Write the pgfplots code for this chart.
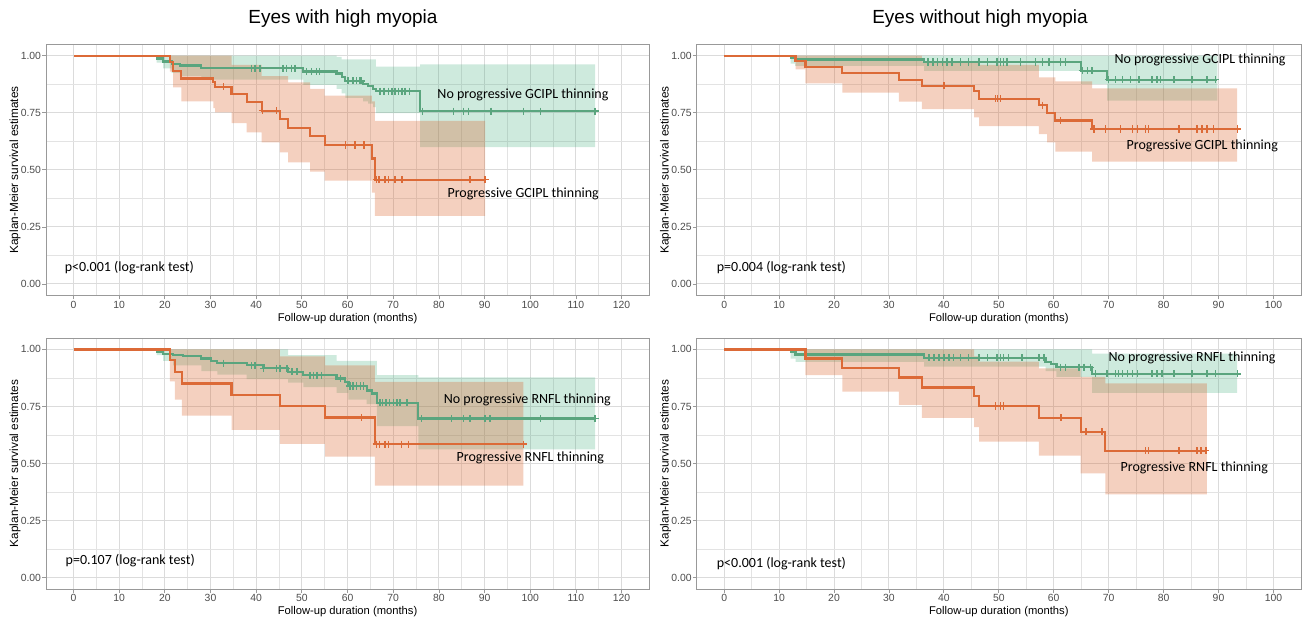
\documentclass[border=0pt]{standalone}
\usepackage{fontspec}
\setmainfont{Liberation Sans}
\newfontfamily\carlito{Carlito}
\usepackage{pgfplots}
\pgfplotsset{compat=1.18}
\definecolor{gline}{HTML}{5AA57E}
\definecolor{oline}{HTML}{DC6A37}
\definecolor{gfill}{HTML}{3DAA78}
\definecolor{ofill}{HTML}{D9622B}
\pgfplotsset{
 km/.style={
  scale only axis, height=125.55pt, clip=false,
  ymin=-0.05, ymax=1.05,
  ytick={0,0.25,0.5,0.75,1}, yticklabels={0.00,0.25,0.50,0.75,1.00},
  minor ytick={0.125,0.375,0.625,0.875},
  minor x tick num=1,
  grid=both,
  major grid style={draw=black!14, line width=0.5pt},
  minor grid style={draw=black!11, line width=0.35pt},
  axis line style={draw=black!40, line width=0.4pt},
  tick pos=left, tick align=outside,
  major tick length=2pt, minor tick length=0pt,
  tick style={draw=black!40, line width=0.4pt},
  ticklabel style={font=\fontsize{5.2}{6}\selectfont, text=black!70},
  xticklabel style={yshift=2.8pt},
  yticklabel style={xshift=3pt},
  /pgf/number format/assume math mode=true,
  xlabel={Follow-up duration (months)},
  ylabel={Kaplan-Meier survival estimates},
  every axis x label/.style={at={(axis description cs:0.5,-0.0916)}, anchor=center, font=\fontsize{5.6}{6.5}\selectfont},
  every axis y label/.style={at={(axis description cs:-0.0514,0.5)}, anchor=center, rotate=90, font=\fontsize{5.9}{6.8}\selectfont},
 },
 kml/.style={km, width=301.45pt, xmin=-6, xmax=126, xtick={0,10,...,120}},
 kmr/.style={km, width=302.1pt, xmin=-5, xmax=105, xtick={0,10,...,100}},
 gband/.style={const plot, fill=gfill, fill opacity=0.25, draw=none},
 oband/.style={const plot, fill=ofill, fill opacity=0.3, draw=none},
 gl/.style={gline, const plot, line width=1.1pt},
 ol/.style={oline, const plot, line width=1.1pt},
 gc/.style={gline, only marks, mark=+, mark size=1.8pt, mark options={line width=0.7pt}},
 oc/.style={oline, only marks, mark=+, mark size=1.8pt, mark options={line width=0.7pt}},
}
\tikzset{ann/.style={anchor=west, inner sep=0pt, font=\carlito\fontsize{7}{8.4}\selectfont}}
\begin{document}
\begin{tikzpicture}
\path[use as bounding box] (0,0) rectangle (652pt,310pt);
\node[font=\fontsize{9.5}{11}\selectfont] at (171.5pt,300.5pt) {Eyes with high myopia};
\node[font=\fontsize{9.5}{11}\selectfont] at (490pt,300.5pt) {Eyes without high myopia};

% ---------------- Top left ----------------
\begin{axis}[kml, at={(23.05pt,162.3pt)}, anchor=south west]
\addplot[gband] coordinates {(18.2,1) (57.6,0.995) (58.7,0.984) (66.2,0.952) (75.9,0.962) (114.2,0.962)
 (114.2,0.599) (75.9,0.749) (66.2,0.775) (65.6,0.79) (64.5,0.80) (63.4,0.815) (59.5,0.835) (58.7,0.855) (57.6,0.872) (50.3,0.895) (28,0.91) (23.3,0.925) (21.5,0.945) (19.6,0.97) (18.2,0.97)};
\addplot[oband] coordinates {(21.1,1) (34.6,0.96) (41.2,0.91) (47.0,0.883) (51.8,0.855) (55.0,0.825) (65.3,0.80) (66.0,0.715) (90.1,0.715)
 (90.1,0.298) (66.0,0.40) (65.3,0.453) (55.0,0.492) (51.8,0.533) (47.0,0.577) (45.2,0.62) (41.2,0.664) (37.9,0.705) (34.6,0.752) (31.0,0.77) (30.6,0.80) (23.6,0.861) (21.8,0.93) (21.1,0.93)};
\addplot[gl] coordinates {(0,1) (18.2,0.988) (19.6,0.975) (21.5,0.964) (23.3,0.957) (28.0,0.945) (50.3,0.931) (57.6,0.922) (58.7,0.905) (59.5,0.89) (63.4,0.876) (64.5,0.866) (65.6,0.855) (66.2,0.844) (75.9,0.757) (114.2,0.757)};
\addplot[ol] coordinates {(0,1) (21.1,0.971) (21.8,0.934) (23.6,0.90) (30.6,0.886) (31.0,0.864) (34.6,0.832) (37.9,0.796) (41.2,0.759) (45.2,0.723) (47.0,0.683) (51.8,0.647) (55.0,0.609) (65.3,0.55) (66.0,0.457) (90.1,0.457)};
\addplot[gc] coordinates {(39.0,0.945) (39.7,0.945) (40.8,0.945) (45.9,0.945) (46.6,0.945) (47.7,0.945) (48.5,0.945) (51.0,0.931) (52.1,0.931) (53.2,0.931) (53.9,0.931) (60.1,0.89) (61.2,0.89) (62.0,0.89) (62.7,0.89) (63.1,0.89) (67.1,0.844) (68.0,0.844) (68.9,0.844) (69.7,0.844) (70.4,0.844) (71.1,0.844) (71.9,0.844) (72.6,0.844) (73.5,0.844) (76.4,0.757) (83.2,0.757) (85.4,0.757) (86.5,0.757) (91.4,0.757) (98.5,0.757) (102.2,0.757) (114.2,0.757)};
\addplot[oc] coordinates {(32.8,0.864) (41.4,0.759) (44.5,0.759) (59.6,0.609) (61.6,0.609) (63.6,0.609) (66.3,0.457) (66.9,0.457) (68.2,0.457) (68.9,0.457) (70.4,0.457) (71.9,0.457) (86.8,0.457) (90.1,0.457)};
\node[ann] at (axis cs:79.6,0.827) {No progressive GCIPL thinning};
\node[ann] at (axis cs:81.8,0.396) {Progressive GCIPL thinning};
\node[ann] at (axis cs:-2.0,0.071) {p<0.001 (log-rank test)};
\end{axis}

% ---------------- Top right ----------------
\begin{axis}[kmr, at={(348.35pt,162.3pt)}, anchor=south west]
\addplot[gband] coordinates {(12.1,1) (89.8,1)
 (89.8,0.803) (69.7,0.875) (65.0,0.934) (36.4,0.955) (12.9,0.965) (12.1,0.965)};
\addplot[oband] coordinates {(13,1) (36.0,0.975) (46.4,0.96) (57.3,0.905) (60.3,0.888) (67.0,0.857) (93.4,0.857)
 (93.4,0.536) (67.0,0.58) (60.3,0.62) (58.8,0.657) (57.3,0.692) (46.4,0.73) (45.5,0.766) (36.0,0.799) (31.8,0.838) (21.5,0.879) (14.8,0.94) (13,0.94)};
\addplot[gl] coordinates {(0,1) (12.1,0.99) (12.9,0.983) (36.4,0.972) (65.0,0.934) (69.7,0.895) (89.8,0.895)};
\addplot[ol] coordinates {(0,1) (13.0,0.978) (14.8,0.949) (21.5,0.924) (31.8,0.895) (36.0,0.869) (45.5,0.844) (46.4,0.812) (57.3,0.783) (58.8,0.749) (60.3,0.716) (67.0,0.679) (93.4,0.679)};
\addplot[gc] coordinates {(37.1,0.972) (38.0,0.972) (38.8,0.972) (39.7,0.972) (40.6,0.972) (41.5,0.972) (43.0,0.972) (44.5,0.972) (46.4,0.972) (47.9,0.972) (49.7,0.972) (50.3,0.972) (50.9,0.972) (51.5,0.972) (53.9,0.972) (56.7,0.972) (57.9,0.972) (59.1,0.972) (61.2,0.972) (62.1,0.972) (65.2,0.934) (66.1,0.934) (67.0,0.934) (70.0,0.895) (71.2,0.895) (72.5,0.895) (74.0,0.895) (75.5,0.895) (77.9,0.895) (78.8,0.895) (79.4,0.895) (81.9,0.895) (85.2,0.895) (87.9,0.895) (89.4,0.895)};
\addplot[oc] coordinates {(40.0,0.869) (49.4,0.812) (49.8,0.812) (50.3,0.812) (57.9,0.783) (61.2,0.716) (67.3,0.679) (69.4,0.679) (72.1,0.679) (74.3,0.679) (75.2,0.679) (76.7,0.679) (77.3,0.679) (82.8,0.679) (86.1,0.679) (87.0,0.679) (87.9,0.679) (89.1,0.679) (93.4,0.679)};
\node[ann] at (axis cs:71.0,0.981) {No progressive GCIPL thinning};
\node[ann] at (axis cs:73.2,0.606) {Progressive GCIPL thinning};
\node[ann] at (axis cs:-1.4,0.071) {p=0.004 (log-rank test)};
\end{axis}

% ---------------- Bottom left ----------------
\begin{axis}[kml, at={(23.05pt,15.45pt)}, anchor=south west]
\addplot[gband] coordinates {(18.2,1) (47.0,0.975) (57.6,0.95) (66.4,0.887) (75.5,0.877) (114.2,0.877)
 (114.2,0.562) (75.5,0.664) (66.4,0.76) (64.2,0.78) (60.2,0.81) (57.6,0.835) (50.3,0.855) (47,0.87) (37.9,0.89) (31.5,0.905) (28,0.93) (21.8,0.95) (19.6,0.975) (18.2,0.975)};
\addplot[oband] coordinates {(21.1,1) (45.2,0.97) (55.1,0.93) (66,0.858) (98.5,0.858)
 (98.5,0.403) (66,0.53) (55.1,0.586) (45.2,0.647) (34.6,0.71) (23.7,0.78) (22.2,0.86) (21.1,0.86)};
\addplot[gl] coordinates {(0,1) (18.2,0.99) (19.6,0.98) (21.8,0.975) (24,0.97) (28,0.96) (30.1,0.95) (31.5,0.939) (37.9,0.93) (41.6,0.917) (47,0.902) (50.3,0.887) (57.6,0.873) (59.5,0.856) (60.2,0.84) (64.2,0.82) (65.3,0.807) (66.4,0.766) (75.5,0.697) (114.2,0.697)};
\addplot[ol] coordinates {(0,1) (21.1,0.953) (22.2,0.902) (23.7,0.851) (34.6,0.80) (45.2,0.752) (55.1,0.702) (66.0,0.585) (98.5,0.585)};
\addplot[gc] coordinates {(32.8,0.939) (39.0,0.93) (39.7,0.93) (41.6,0.917) (44.5,0.917) (45.2,0.917) (46.7,0.917) (47.8,0.902) (48.9,0.902) (51.8,0.887) (52.5,0.887) (53.3,0.887) (54.3,0.887) (58.4,0.873) (60.5,0.84) (61.2,0.84) (62.0,0.84) (62.8,0.84) (63.5,0.84) (67.1,0.766) (67.7,0.766) (68.4,0.766) (69.2,0.766) (70.0,0.766) (70.8,0.766) (71.5,0.766) (73.0,0.766) (76.2,0.697) (82.8,0.697) (85.4,0.697) (86.8,0.697) (90.1,0.697) (91.2,0.697) (102.2,0.697) (114.2,0.697)};
\addplot[oc] coordinates {(63.1,0.702) (66.3,0.585) (67.0,0.585) (68.2,0.585) (68.9,0.585) (71.8,0.585) (73.3,0.585) (98.5,0.585)};
\node[ann] at (axis cs:81.0,0.781) {No progressive RNFL thinning};
\node[ann] at (axis cs:83.8,0.525) {Progressive RNFL thinning};
\node[ann] at (axis cs:-1.8,0.077) {p=0.107 (log-rank test)};
\end{axis}

% ---------------- Bottom right ----------------
\begin{axis}[kmr, at={(348.35pt,15.45pt)}, anchor=south west]
\addplot[gband] coordinates {(12.1,1) (67,0.982) (93.4,0.982)
 (93.4,0.81) (67,0.88) (60.5,0.905) (58.5,0.925) (36.4,0.945) (13,0.96) (12.1,0.96)};
\addplot[oband] coordinates {(14.8,1) (45.5,0.97) (46.4,0.946) (57.3,0.917) (64.9,0.88) (69.4,0.851) (87.9,0.851)
 (87.9,0.365) (69.4,0.457) (64.9,0.535) (57.3,0.596) (46.4,0.66) (45.5,0.70) (36.0,0.757) (31.8,0.815) (21.5,0.887) (14.8,0.887)};
\addplot[gl] coordinates {(0,1) (12.1,0.99) (13.0,0.978) (36.4,0.963) (58.5,0.946) (59.5,0.935) (60.5,0.922) (67.0,0.893) (93.4,0.893)};
\addplot[ol] coordinates {(0,1) (14.8,0.96) (21.5,0.92) (31.8,0.877) (36.0,0.833) (45.5,0.795) (46.4,0.752) (57.3,0.70) (64.9,0.639) (69.4,0.556) (87.9,0.556)};
\addplot[gc] coordinates {(37.3,0.963) (38.2,0.963) (39.1,0.963) (40.0,0.963) (40.9,0.963) (41.8,0.963) (43.0,0.963) (44.5,0.963) (46.4,0.963) (47.9,0.963) (49.7,0.963) (50.3,0.963) (50.9,0.963) (51.8,0.963) (54.2,0.963) (57.3,0.963) (58.2,0.963) (61.2,0.922) (62.1,0.922) (64.6,0.922) (65.5,0.922) (66.7,0.922) (67.6,0.893) (69.7,0.893) (71.2,0.893) (71.8,0.893) (72.5,0.893) (73.4,0.893) (74.3,0.893) (75.2,0.893) (77.9,0.893) (78.8,0.893) (79.7,0.893) (81.9,0.893) (85.2,0.893) (87.9,0.893) (89.4,0.893) (93.4,0.893)};
\addplot[oc] coordinates {(49.4,0.752) (50.3,0.752) (50.9,0.752) (61.3,0.70) (65.9,0.639) (68.8,0.639) (76.7,0.556) (77.2,0.556) (82.8,0.556) (86.1,0.556) (86.8,0.556) (87.7,0.556)};
\node[ann] at (axis cs:69.9,0.965) {No progressive RNFL thinning};
\node[ann] at (axis cs:72.1,0.483) {Progressive RNFL thinning};
\node[ann] at (axis cs:-1.4,0.063) {p<0.001 (log-rank test)};
\end{axis}
\end{tikzpicture}
\end{document}
